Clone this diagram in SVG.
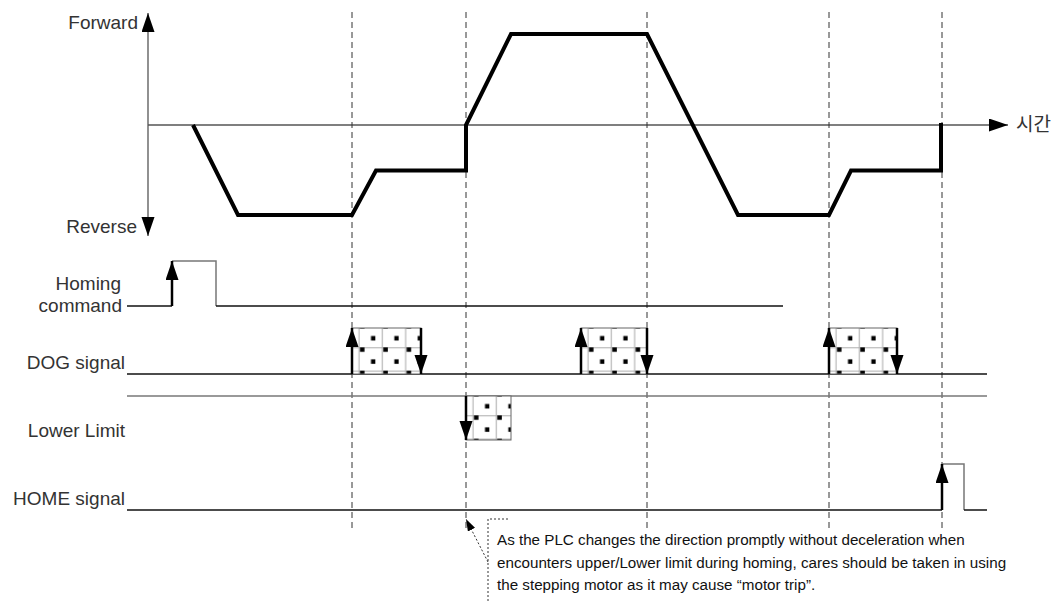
<svg xmlns="http://www.w3.org/2000/svg" xmlns:xlink="http://www.w3.org/1999/xlink" width="1054" height="602" viewBox="0 0 1054 602">
<style>
.lbl{font-family:"Liberation Sans",Arial,sans-serif;font-size:19px;fill:#333;text-anchor:end}
.note{font-family:"Liberation Sans",Arial,sans-serif;font-size:15.2px;fill:#111}
.kr{font-family:"Liberation Sans","Noto Sans CJK KR",sans-serif;font-size:19px;fill:#333}
.axis{stroke:#555;stroke-width:1.3;fill:none}
.wave{stroke:#000;stroke-width:4;fill:none;stroke-linejoin:miter}
.guide{stroke:#333;stroke-width:1;stroke-dasharray:6 4;fill:none}
.sig{stroke:#111;stroke-width:1.5;fill:none}
.sig2{stroke:#777;stroke-width:1.5;fill:none}
.arr{stroke:#000;stroke-width:2.5;fill:none}
.box{stroke:#666;stroke-width:1}
.dot{stroke:#333;stroke-width:1;stroke-dasharray:2 2;fill:none}
</style>
<defs>
<marker id="ah" markerUnits="userSpaceOnUse" markerWidth="20" markerHeight="14" refX="19" refY="6.5" orient="auto" viewBox="0 0 20 14">
<path d="M0,0 L19,6.5 L0,13 z" fill="#000"/>
</marker>
<marker id="ahs" markerUnits="userSpaceOnUse" markerWidth="13" markerHeight="10" refX="12" refY="4" orient="auto" viewBox="0 0 13 10">
<path d="M0,0 L12,4 L0,8 z" fill="#000"/>
</marker>
<pattern id="dots" patternUnits="userSpaceOnUse" x="352" y="322" width="23.33" height="23.33">
<rect width="23.33" height="23.33" fill="#fff"/>
<line x1="7" y1="0" x2="7" y2="23.33" stroke="#aaa" stroke-width="1"/>
<line x1="0" y1="2.5" x2="23.33" y2="2.5" stroke="#aaa" stroke-width="1"/>
<rect x="19" y="14" width="4.5" height="4.5" fill="#000"/>
<rect x="8" y="2" width="4.5" height="4.5" fill="#000"/>
</pattern>
<pattern id="dots2" xlink:href="#dots" x="581" y="322"/>
<pattern id="dots3" xlink:href="#dots" x="829" y="322"/>
<pattern id="dots4" xlink:href="#dots" x="466" y="390"/>
</defs>

<g id="axes">
<line class="axis" x1="148" y1="125" x2="148" y2="13" marker-end="url(#ah)"/>
<line class="axis" x1="148" y1="125" x2="148" y2="236" marker-end="url(#ah)"/>
<line class="axis" x1="148" y1="125" x2="1008" y2="125" marker-end="url(#ah)"/>
<text class="lbl" x="138" y="29">Forward</text>
<text class="lbl" x="137" y="233">Reverse</text>
<text class="kr" x="1016" y="131">시간</text>
</g>

<g id="guides">
<line class="guide" x1="352" y1="12" x2="352" y2="532"/>
<line class="guide" x1="466" y1="12" x2="466" y2="532"/>
<line class="guide" x1="647" y1="12" x2="647" y2="532"/>
<line class="guide" x1="829" y1="12" x2="829" y2="532"/>
<line class="guide" x1="942" y1="12" x2="942" y2="532"/>
</g>

<g id="speed-profile">
<polyline class="wave" points="193,125 238,215 352,215 376,170.5 466,170.5 466,125 511,34 647,34 738,215 829,215 851,170.5 941,170.5 941,123"/>
</g>

<g id="homing-command">
<text class="lbl" x="121" y="290">Homing</text>
<text class="lbl" x="122" y="312">command</text>
<polyline class="sig" points="127,306 172,306"/>
<polyline class="sig2" points="172,261 216,261 216,306"/>
<polyline class="sig" points="216,306 783,306"/>
<line class="arr" x1="172" y1="306" x2="172" y2="261" marker-end="url(#ah)"/>
</g>

<g id="dog-signal">
<text class="lbl" x="125" y="369">DOG signal</text>
<line class="sig" x1="127" y1="374" x2="987" y2="374"/>
<rect class="box" x="352" y="328" width="69" height="46" fill="url(#dots)"/>
<rect class="box" x="581" y="328" width="66" height="46" fill="url(#dots2)"/>
<rect class="box" x="829" y="328" width="68" height="46" fill="url(#dots3)"/>
<line class="arr" x1="352" y1="374" x2="352" y2="328" marker-end="url(#ah)"/>
<line class="arr" x1="421" y1="328" x2="421" y2="374" marker-end="url(#ah)"/>
<line class="arr" x1="581" y1="374" x2="581" y2="328" marker-end="url(#ah)"/>
<line class="arr" x1="647" y1="328" x2="647" y2="374" marker-end="url(#ah)"/>
<line class="arr" x1="829" y1="374" x2="829" y2="328" marker-end="url(#ah)"/>
<line class="arr" x1="897" y1="328" x2="897" y2="374" marker-end="url(#ah)"/>
</g>

<g id="lower-limit">
<text class="lbl" x="125" y="437">Lower Limit</text>
<line class="sig2" x1="127" y1="396" x2="987" y2="396"/>
<rect class="box" x="466" y="396" width="45" height="44" fill="url(#dots4)"/>
<line class="arr" x1="466" y1="396" x2="466" y2="440" marker-end="url(#ah)"/>
</g>

<g id="home-signal">
<text class="lbl" x="125" y="505">HOME signal</text>
<polyline class="sig" points="127,510 942,510"/>
<polyline class="sig2" points="942,464 964,464 964,510"/>
<polyline class="sig" points="964,510 987,510"/>
<line class="arr" x1="942" y1="510" x2="942" y2="464" marker-end="url(#ah)"/>
</g>

<g id="note">
<polyline class="dot" points="508,519 488,519 488,602"/>
<line class="dot" x1="488" y1="562" x2="466" y2="519" marker-end="url(#ahs)"/>
<text class="note" x="497" y="545">As the PLC changes the direction promptly without deceleration when</text>
<text class="note" x="497" y="568">encounters upper/Lower limit during homing, cares should be taken in using</text>
<text class="note" x="497" y="590">the stepping motor as it may cause “motor trip”.</text>
</g>
</svg>
